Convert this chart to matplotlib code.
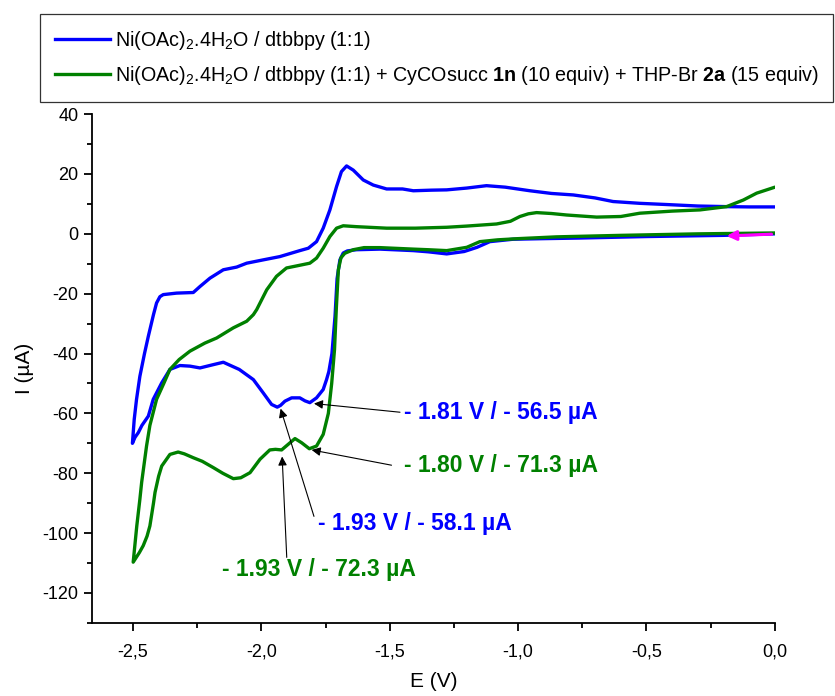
import matplotlib

matplotlib.use("Agg")
import matplotlib.pyplot as plt
from matplotlib.lines import Line2D
from matplotlib.ticker import FuncFormatter, MultipleLocator

plt.rcParams["font.family"] = ["Liberation Sans", "DejaVu Sans"]
plt.rcParams["mathtext.fontset"] = "custom"
plt.rcParams["mathtext.rm"] = "Liberation Sans"
plt.rcParams["mathtext.bf"] = "Liberation Sans:bold"
plt.rcParams["axes.unicode_minus"] = False

# --- Ni(OAc)2 / dtbbpy alone (blue) ---------------------------------------
blue_fwd_E = [0.0, -0.2, -0.5, -0.76, -0.9, -1.02, -1.11, -1.16, -1.21, -1.278,
              -1.35, -1.408, -1.538, -1.629, -1.665, -1.681, -1.694, -1.705,
              -1.713, -1.725, -1.737, -1.746, -1.759, -1.785, -1.811, -1.830,
              -1.850, -1.882, -1.908, -1.925, -1.938, -1.960, -1.993, -2.031,
              -2.086, -2.148, -2.187, -2.239, -2.278, -2.317, -2.356, -2.388,
              -2.421, -2.44, -2.465, -2.479, -2.492, -2.502]
blue_fwd_I = [0.0, -0.5, -0.9, -1.4, -1.6, -1.8, -2.6, -4.5, -5.9, -6.7,
              -6.0, -5.6, -5.1, -5.3, -5.7, -6.4, -8.7, -15.0,
              -27.6, -40.0, -46.0, -48.7, -52.0, -54.8, -56.4, -55.8,
              -54.8, -54.8, -55.9, -57.3, -57.9, -57.0, -53.1, -48.7,
              -45.3, -42.9, -43.7, -44.8, -44.2, -44.0, -45.3, -49.8,
              -55.3, -60.9, -64.0, -66.4, -68.0, -70.0]
blue_rev_E = [-2.502, -2.495, -2.486, -2.473, -2.455, -2.44, -2.42, -2.408,
              -2.395, -2.382, -2.33, -2.265, -2.239, -2.2, -2.148, -2.096,
              -2.057, -1.993, -1.928, -1.850, -1.817, -1.785, -1.759, -1.733,
              -1.707, -1.688, -1.668, -1.642, -1.603, -1.564, -1.512, -1.45,
              -1.408, -1.338, -1.278, -1.2, -1.123, -1.05, -0.954, -0.87,
              -0.785, -0.70, -0.63, -0.526, -0.422, -0.3, -0.188, -0.1, 0.0]
blue_rev_I = [-70.0, -62.0, -55.3, -47.6, -40.0, -34.2, -27.0, -23.1,
              -21.0, -20.3, -19.8, -19.6, -17.6, -14.8, -12.0, -11.1,
              -9.8, -8.7, -7.6, -5.6, -4.8, -2.6, 1.9, 8.0,
              15.8, 20.8, 22.7, 21.3, 18.0, 16.3, 15.0, 15.0,
              14.4, 14.6, 14.7, 15.3, 16.1, 15.6, 14.4, 13.5,
              13.0, 12.0, 10.8, 10.2, 9.8, 9.3, 9.1, 9.0, 9.0]

# --- + CyCOsucc 1n + THP-Br 2a (green) ------------------------------------
green_fwd_E = [0.0, -0.3, -0.6, -0.85, -1.0, -1.08, -1.149, -1.2, -1.278,
               -1.35, -1.408, -1.538, -1.60, -1.642, -1.675, -1.69, -1.700,
               -1.708, -1.715, -1.726, -1.739, -1.759, -1.785, -1.813, -1.843,
               -1.869, -1.895, -1.921, -1.945, -1.967, -2.005, -2.044, -2.08,
               -2.109, -2.15, -2.187, -2.23, -2.265, -2.30, -2.324, -2.356,
               -2.388, -2.40, -2.414, -2.42, -2.434, -2.445, -2.46, -2.475,
               -2.499]
green_fwd_I = [0.3, 0.0, -0.5, -1.0, -1.6, -2.0, -2.6, -4.5, -5.6,
               -5.3, -5.1, -4.6, -4.6, -5.3, -6.5, -8.0, -12.0,
               -25.0, -38.7, -50.0, -60.0, -67.0, -70.9, -71.8, -69.8,
               -68.4, -70.3, -72.2, -72.0, -72.2, -75.3, -79.8, -81.5,
               -81.8, -80.0, -78.1, -76.0, -74.8, -73.5, -72.9, -73.7,
               -77.6, -81.0, -86.4, -90.0, -97.6, -101.0, -104.2, -106.5,
               -109.7]
green_rev_E = [-2.499, -2.485, -2.473, -2.466, -2.447, -2.434, -2.408, -2.38,
               -2.356, -2.32, -2.278, -2.22, -2.174, -2.109, -2.057, -2.031,
               -2.018, -1.979, -1.941, -1.902, -1.862, -1.811, -1.785, -1.759,
               -1.733, -1.707, -1.681, -1.629, -1.512, -1.4, -1.278, -1.2,
               -1.084, -1.03, -0.993, -0.96, -0.928, -0.87, -0.811, -0.694,
               -0.6, -0.526, -0.4, -0.292, -0.188, -0.123, -0.071, 0.0]
green_rev_I = [-109.7, -97.6, -88.7, -83.0, -70.9, -64.0, -55.3, -50.0,
               -45.3, -42.0, -39.2, -36.5, -34.8, -31.4, -29.2, -27.0,
               -25.3, -18.7, -14.2, -11.4, -10.7, -9.8, -8.1, -4.8,
               -0.9, 1.9, 2.7, 2.4, 1.9, 1.9, 2.2, 2.6,
               3.3, 4.2, 5.8, 6.7, 7.1, 6.8, 6.3, 5.6,
               5.8, 6.9, 7.6, 8.0, 9.1, 11.3, 13.6, 15.6]

labels = [
    r"Ni(OAc)$_2$.4H$_2$O / dtbbpy (1:1)",
    r"Ni(OAc)$_2$.4H$_2$O / dtbbpy (1:1) + CyCOsucc $\mathbf{1n}$ (10 equiv)"
    r" + THP-Br $\mathbf{2a}$ (15 equiv)",
]
colors = ["#0000FF", "#008000"]

# peak annotations: text, colour, text anchor (E, I), arrow tail, arrow tip
notes = [
    ("- 1.81 V / - 56.5 µA", "#0000FF", (-1.445, -59.7), (-1.460, -59.6), (-1.795, -56.7)),
    ("- 1.80 V / - 71.3 µA", "#008000", (-1.445, -77.3), (-1.493, -77.3), (-1.804, -72.2)),
    ("- 1.93 V / - 58.1 µA", "#0000FF", (-1.780, -96.7), (-1.795, -94.4), (-1.925, -58.4)),
    ("- 1.93 V / - 72.3 µA", "#008000", (-2.153, -112.3), (-1.901, -108.1), (-1.919, -74.4)),
]

fig = plt.figure(figsize=(8.35, 6.96), dpi=100)
ax = fig.add_axes([0.110, 0.105, 0.818, 0.731])

ax.plot(blue_fwd_E + blue_rev_E, blue_fwd_I + blue_rev_I, color=colors[0],
        lw=2.4, solid_joinstyle="round", solid_capstyle="round")
ax.plot(green_fwd_E + green_rev_E, green_fwd_I + green_rev_I, color=colors[1],
        lw=2.4, solid_joinstyle="round", solid_capstyle="round")

# scan direction
ax.annotate("", xy=(-0.188, -0.7), xytext=(-0.013, -0.1),
            arrowprops=dict(arrowstyle="-|>", color="#FF00FF", lw=2.2,
                            mutation_scale=14, shrinkA=0, shrinkB=0))

for txt, col, pos, tail, tip in notes:
    ax.annotate("", xy=tip, xytext=tail,
                arrowprops=dict(arrowstyle="-|>", color="black", lw=0.8,
                                mutation_scale=13, shrinkA=0, shrinkB=0))
    ax.text(pos[0], pos[1], txt, color=col, fontsize=16.5, fontweight="bold",
            ha="left", va="center")

ax.set_xlim(-2.66, 0.0)
ax.set_ylim(-130, 40)
ax.xaxis.set_major_locator(MultipleLocator(0.5))
ax.xaxis.set_minor_locator(MultipleLocator(0.25))
ax.yaxis.set_major_locator(MultipleLocator(20))
ax.yaxis.set_minor_locator(MultipleLocator(10))
ax.xaxis.set_major_formatter(FuncFormatter(lambda v, p: f"{v:.1f}".replace(".", ",")))
ax.spines[["top", "right"]].set_visible(False)
for s in ("left", "bottom"):
    ax.spines[s].set_linewidth(1.3)
ax.tick_params(which="major", direction="out", length=6, width=1.3, labelsize=13)
ax.tick_params(axis="x", which="major", pad=9)
ax.tick_params(which="minor", direction="out", length=3.5, width=1.3)
ax.set_xlabel("E (V)", fontsize=15, labelpad=8)
ax.set_ylabel("I (µA)", fontsize=15, labelpad=6)

handles = [Line2D([], [], color=c, lw=2.4) for c in colors]
leg = fig.legend(handles, labels, loc="upper left",
                 bbox_to_anchor=(40 / 835, 1 - 14 / 696), fontsize=14.2,
                 frameon=True, fancybox=False, borderaxespad=0,
                 handlelength=2.8, handletextpad=0.25, labelspacing=0.62,
                 borderpad=0.75)
leg.get_frame().set_edgecolor("black")
leg.get_frame().set_linewidth(0.9)

fig.savefig("out.png", dpi=100)
